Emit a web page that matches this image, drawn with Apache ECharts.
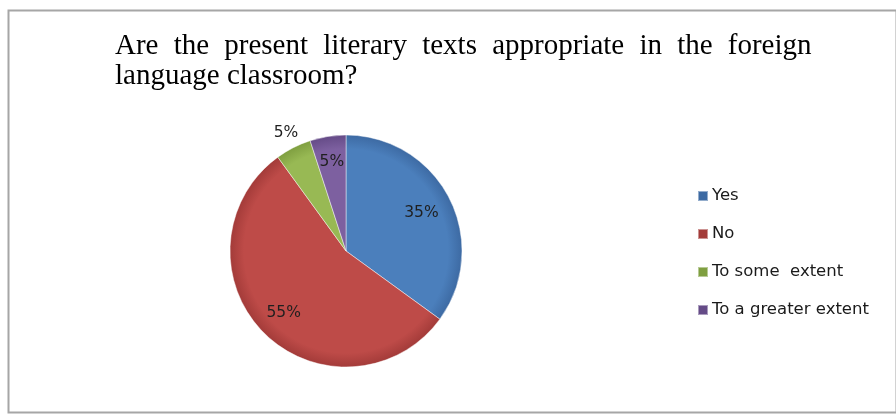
<!DOCTYPE html>
<html><head><meta charset="utf-8">
<script src="https://cdn.jsdelivr.net/npm/echarts@6/dist/echarts.min.js"></script>
<style>html,body{margin:0;padding:0;background:#fff}#c{width:896px;height:414px}</style>
</head><body><div id="c"></div>
<script>
const categories = ['Yes', 'No', 'To some  extent', 'To a greater extent'];
const values = [35, 55, 5, 5];
const titleLine1 = ['Are', 'the', 'present', 'literary', 'texts', 'appropriate', 'in', 'the', 'foreign'];
const titleLine2 = 'language classroom?';

const CX = 346, CY = 251, R = 116;
const baseColors = [['#4b7fbc', '#3d6aa3'], ['#be4b48', '#a33b39'], ['#98b954', '#7f9f40'], ['#7d60a0', '#654b87']];
// label radius as fraction of R (inside labels are drawn at 0.5R by default)
const labelRadius = [0.73, 0.76, 1.14, 0.78];

const chart = echarts.init(document.getElementById('c'));
chart.setOption({
  animation: false,
  graphic: [{
    type: 'rect', left: 6, top: 8,
    shape: { width: 888, height: 402 },
    style: { fill: 'none', stroke: '#a6a6a6', lineWidth: 2 }
  }],
  title: {
    left: 110, top: 26,
    text: titleLine1.join('{g| }') + '\n' + titleLine2,
    textStyle: {
      fontFamily: 'Liberation Serif', fontSize: 29, fontWeight: 'normal', color: '#000', lineHeight: 30,
      rich: { g: { width: 15.2, fontFamily: 'Liberation Serif', fontSize: 29, lineHeight: 30 } }
    }
  },
  legend: {
    orient: 'vertical', left: 692, top: 181,
    icon: 'rect', itemWidth: 10, itemHeight: 10, itemGap: 18,
    data: categories,
    textStyle: { fontFamily: 'DejaVu Sans', fontSize: 16.5, color: '#1a1a1a', lineHeight: 20, padding: [0, 0, 0, -1] }
  },
  series: [{
    type: 'pie',
    center: [CX, CY], radius: R,
    startAngle: 90, clockwise: true,
    data: categories.map((c, i) => ({
      name: c, value: values[i],
      itemStyle: {
        color: {
          type: 'radial', x: CX, y: CY, r: R, global: true,
          colorStops: [{ offset: 0, color: baseColors[i][0] }, { offset: 0.88, color: baseColors[i][0] }, { offset: 1, color: baseColors[i][1] }]
        }
      }
    })),
    itemStyle: { borderColor: 'rgba(255,255,255,0.45)', borderWidth: 1 },
    label: {
      show: true, position: 'inside',
      formatter: p => p.value + '%',
      fontFamily: 'DejaVu Sans', fontSize: 15.5, color: '#1f1f1f'
    },
    labelLine: { show: false },
    emphasis: { disabled: true },
    labelLayout: function (p) {
      const lx = p.labelRect.x + p.labelRect.width / 2;
      const ly = p.labelRect.y + p.labelRect.height / 2;
      const dx = lx - CX, dy = ly - CY;
      const d = Math.sqrt(dx * dx + dy * dy) || 1;
      const rr = labelRadius[p.dataIndex] * R;
      return { x: CX + dx / d * rr, y: CY + dy / d * rr, align: 'center', verticalAlign: 'middle' };
    }
  }]
});
</script></body></html>
